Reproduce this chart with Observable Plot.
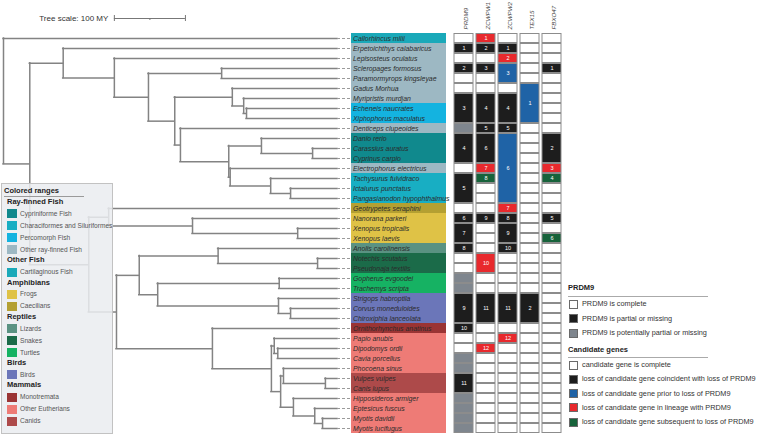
<!DOCTYPE html>
<html><head><meta charset="utf-8">
<script src="https://cdn.jsdelivr.net/npm/d3@7"></script>
<script src="https://cdn.jsdelivr.net/npm/@observablehq/plot@0.6"></script>
<style>
body{margin:0;background:#fff;font-family:"Liberation Sans",Arial,sans-serif;}
#wrap{position:relative;width:763px;height:435px;overflow:hidden;background:#fff;}
#wrap svg{position:absolute;left:0;top:0;}
.t{position:absolute;white-space:nowrap;line-height:10px;height:10px;}
.sw{position:absolute;box-sizing:border-box;}
</style></head><body><div id="wrap"></div>
<script>
// ---------- data ----------
const species = ["Callorhincus milii","Erpetoichthys calabaricus","Lepisosteus oculatus","Scleropages formosus","Paramormyrops kingsleyae","Gadus Morhua","Myripristis murdjan","Echeneis naucrates","Xiphophorus maculatus","Denticeps clupeoides","Danio rerio","Carassius auratus","Cyprinus carpio","Electrophorus electricus","Tachysurus fulvidraco","Ictalurus punctatus","Pangasianodon hypophthalmus","Geotrypetes seraphini","Nanorana parkeri","Xenopus tropicalis","Xenopus laevis","Anolis carolinensis","Notechis scutatus","Pseudonaja textilis","Gopherus evgoodei","Trachemys scripta","Strigops habroptila","Corvus moneduloides","Chiroxiphia lanceolata","Ornithorhynchus anatinus","Papio anubis","Dipodomys ordii","Cavia porcellus","Phocoena sinus","Vulpes vulpes","Canis lupus","Hipposideros armiger","Eptesicus fuscus","Myotis davidii","Myotis lucifugus"];

const tipParent = ["root","act","neo","osteo","osteo","eut","n243","n246","n246","oto","cyp","carcyp","carcyp","chara","silur","ictpan","ictpan","amph","anura","xen","xen","squam","snake","snake","turt","turt","birds","pass","pass","mamm","euarch","glires","glires","fereu","canid","canid","chir","vesp","myotis","myotis"];

// internal nodes: [id, parent, age (MY)]
const internalNodes = [
 ["root",null,470],["oste","root",433],["act","oste",386],["neo","act",314],["tele","neo",266],
 ["osteo","tele",163],["clupeo","tele",229],["eut","clupeo",148],["n243","eut",132],["n246","n243",128],
 ["oto","clupeo",221],["ostar","oto",153],["cyp","ostar",107],["carcyp","cyp",35],["chara","ostar",151],
 ["silur","chara",94],["ictpan","silur",66],["tetra","oste",350],["amph","tetra",322],["anura","amph",204],
 ["xen","anura",56],["amn","tetra",311],["saur","amn",279],["squam","saur",168],["snake","squam",28],
 ["arch","saur",253],["turt","arch",82],["birds","arch",83],["pass","birds",66],["mamm","amn",176],
 ["euth","mamm",93],["euarch","euth",89],["glires","euarch",84],["laur","euth",80],["fereu","laur",76],
 ["canid","fereu",17],["chir","laur",62],["vesp","chir",32],["myotis","vesp",21]
];

const treeScaleMY = 100;

// colored ranges
const rangeNames = ["Cypriniforme Fish","Characiformes and Siluriformes","Percomorph Fish","Other ray-finned Fish","Cartilaginous Fish","Frogs","Caecilians","Lizards","Snakes","Turtles","Birds","Monotremata","Other Eutherians","Canids"];
const rangeColors = ["#10898d","#18aec3","#14b3e0","#9db8c3","#1aa9b9","#dfc246","#b4a032","#5a9282","#1b6b49","#16b263","#6b76b9","#9a3434","#ee7b76","#ad4a4a"];
const rangeRuns = [["Cartilaginous Fish",1],["Other ray-finned Fish",6],["Percomorph Fish",2],["Other ray-finned Fish",1],["Cypriniforme Fish",3],["Other ray-finned Fish",1],["Characiformes and Siluriformes",3],["Caecilians",1],["Frogs",3],["Lizards",1],["Snakes",2],["Turtles",2],["Birds",3],["Monotremata",1],["Other Eutherians",4],["Canids",2],["Other Eutherians",4]];
const legendGroups = [
 ["Ray-finned Fish",["Cypriniforme Fish","Characiformes and Siluriformes","Percomorph Fish","Other ray-finned Fish"]],
 ["Other Fish",["Cartilaginous Fish"]],
 ["Amphibians",["Frogs","Caecilians"]],
 ["Reptiles",["Lizards","Snakes","Turtles"]],
 ["Birds",["Birds"]],
 ["Mammals",["Monotremata","Other Eutherians","Canids"]]
];

// gene matrix
const genes = ["PRDM9","ZCWPW1","ZCWPW2","TEX15","FBXO47"];
const stateKeys = ["c","p","g","b","r","n"];
const stateColors = ["#ffffff","#1d1d1d","#7f868e","#1f63a6","#e8292d","#17633b"];
const prdm9Runs = [["c",1],["p",1,"1"],["c",1],["p",1,"2"],["c",2],["p",3,"3"],["g",1],["p",3,"4"],["c",1],["p",3,"5"],["c",1],["p",1,"6"],["p",2,"7"],["p",1,"8"],["c",2],["g",2],["p",3,"9"],["p",1,"10"],["c",2],["g",2],["p",2,"11"],["g",4]];
const zcwpw1Runs = [["r",1,"1"],["p",1,"2"],["c",1],["p",1,"3"],["c",2],["p",3,"4"],["p",1,"5"],["p",3,"6"],["r",1,"7"],["n",1,"8"],["c",3],["p",1,"9"],["c",3],["r",2,"10"],["c",2],["p",3,"11"],["c",2],["r",1,"12"],["c",8]];
const zcwpw2Runs = [["c",1],["p",1,"1"],["r",1,"2"],["b",2,"3"],["c",1],["p",3,"4"],["p",1,"5"],["b",7,"6"],["r",1,"7"],["p",1,"8"],["p",2,"9"],["p",1,"10"],["c",4],["p",3,"11"],["c",1],["r",1,"12"],["c",9]];
const tex15Runs = [["c",5],["b",4,"1"],["c",17],["p",3,"2"],["c",11]];
const fbxo47Runs = [["c",3],["p",1,"1"],["c",6],["p",3,"2"],["r",1,"3"],["n",1,"4"],["c",3],["p",1,"5"],["c",1],["n",1,"6"],["c",19]];
const geneRuns = [prdm9Runs, zcwpw1Runs, zcwpw2Runs, tex15Runs, fbxo47Runs];

const prdm9Legend = [["c","PRDM9 is complete"],["p","PRDM9 is partial or missing"],["g","PRDM9 is potentially partial or missing"]];
const candidateLegend = [["c","candidate gene is complete"],["p","loss of candidate gene coincident with loss of PRDM9"],["b","loss of candidate gene prior to loss of PRDM9"],["r","loss of candidate gene in lineage with PRDM9"],["n","loss of candidate gene subsequent to loss of PRDM9"]];

// ---------- derived ----------
const nodeMap = new Map();
for (const [id, parent, age] of internalNodes) nodeMap.set(id, {id, parent, age, kids: []});
species.forEach((s, i) => nodeMap.set(s, {id: s, parent: tipParent[i], age: 0, y: i + 0.5, kids: []}));
for (const n of nodeMap.values()) if (n.parent) nodeMap.get(n.parent).kids.push(n);
function yOf(n) {
  if (n.y === undefined) { const ys = n.kids.map(yOf); n.y = (Math.min(...ys) + Math.max(...ys)) / 2; }
  return n.y;
}
const allNodes = [...nodeMap.values()];
const horiz = allNodes.filter(n => n.parent).map(n => ({y: yOf(n), x1: nodeMap.get(n.parent).age, x2: n.age}));
const vert = allNodes.filter(n => n.kids.length).map(n => { const ys = n.kids.map(yOf); return {x: n.age, y1: Math.min(...ys), y2: Math.max(...ys)}; });
const tips = species.map((s, i) => ({name: s, y: i + 0.5}));

const ranges = []; { let r = 0; for (const [g, k] of rangeRuns) { ranges.push({group: g, start: r, end: r + k}); r += k; } }

const cells = [];
genes.forEach((gene, gi) => {
  let r = 0;
  for (const [s, k, label] of geneRuns[gi]) {
    if (s === "c" || s === "g") { for (let j = 0; j < k; j++) cells.push({gene, state: s, start: r + j, end: r + j + 1}); }
    else cells.push({gene, state: s, start: r, end: r + k, label});
    r += k;
  }
});

const font = {background: "transparent", fontFamily: "'Liberation Sans', Arial, sans-serif", overflow: "visible"};
const wrap = document.getElementById("wrap");

// ---------- tree ----------
const treeLine = {stroke: "#838383", strokeWidth: 1.5, strokeLinecap: "square"};
const tree = Plot.plot({
  width: 763, height: 435, margin: 0, style: font,
  x: {domain: [470, 0], range: [3, 337], axis: null},
  y: {domain: [0, 40], range: [33, 433], axis: null},
  marks: [
    Plot.ruleY(horiz, {y: "y", x1: "x1", x2: "x2", ...treeLine}),
    Plot.ruleX(vert, {x: "x", y1: "y1", y2: "y2", ...treeLine}),
    Plot.ruleY(tips, {y: "y", x1: 0, x2: -18.5, stroke: "#9a9a9a", strokeWidth: 1, strokeDasharray: "3,2"}),
    Plot.ruleY([treeScaleMY], {y: -1.5, x1: 314, x2: d => 314 - d, stroke: "#777", strokeWidth: 1}),
    Plot.ruleX([314, 314 - treeScaleMY], {x: d => d, y1: -1.8, y2: -1.2, stroke: "#777", strokeWidth: 1}),
    Plot.ruleX([314 - treeScaleMY / 2], {x: d => d, y1: -1.5, y2: -1.3, stroke: "#777", strokeWidth: 1}),
    Plot.text([`Tree scale: ${treeScaleMY} MY`], {x: 314, y: -1.5, text: d => d, textAnchor: "end", dx: -6, fontSize: 8, fill: "#333"})
  ]
});
wrap.appendChild(tree);

// ---------- left legend (colored ranges) ----------
function addText(x, yc, txt, size, bold, color, italic) {
  const d = document.createElement("div");
  d.className = "t"; d.textContent = txt;
  d.style.left = x + "px"; d.style.top = (yc - 5) + "px";
  d.style.fontSize = size + "px"; d.style.fontWeight = bold ? "bold" : "normal";
  d.style.color = color; if (italic) d.style.fontStyle = "italic";
  wrap.appendChild(d);
}
function addBox(x, y, w, h, bg, border) {
  const d = document.createElement("div");
  d.className = "sw";
  Object.assign(d.style, {left: x + "px", top: y + "px", width: w + "px", height: h + "px", background: bg, border: border || "none"});
  wrap.appendChild(d); return d;
}
addBox(1, 183, 112, 251, "rgba(234,236,240,0.86)", "1px solid #c2c2c2");
addText(4, 191, "Colored ranges", 7.5, true, "#222");
addBox(4, 196, 80, 1, "#9a9a9a");
{
  let y = 191;
  for (const [head, items] of legendGroups) {
    y += (y === 191) ? 11 : 10.5;
    addText(7, y, head, 7.5, true, "#222");
    for (const it of items) {
      y += 11.9;
      addBox(7, y - 4.5, 10, 9, rangeColors[rangeNames.indexOf(it)]);
      addText(20, y, it, 6.6, false, "#555");
    }
  }
}

// ---------- colored ranges + labels ----------
const labels = Plot.plot({
  width: 763, height: 435, marginLeft: 351, marginRight: 317, marginTop: 33, marginBottom: 2, style: font,
  x: {type: "band", domain: ["range"], padding: 0, axis: null},
  y: {domain: [0, 40], range: [33, 433], axis: null},
  color: {domain: rangeNames, range: rangeColors},
  marks: [
    Plot.barY(ranges, {x: () => "range", y1: "start", y2: "end", fill: "group"}),
    Plot.text(tips, {y: "y", text: "name", frameAnchor: "left", textAnchor: "start", dx: 1.5, fontSize: 6.9, fontStyle: "italic", fill: "#2b2b2b"})
  ]
});
wrap.appendChild(labels);

// ---------- gene matrix ----------
const matrix = Plot.plot({
  width: 763, height: 435, marginLeft: 452, marginRight: 200, marginTop: 33, marginBottom: 2, style: font,
  x: {type: "band", domain: genes, paddingInner: 0.12, paddingOuter: 0, axis: null},
  y: {domain: [0, 40], range: [33, 433], axis: null},
  color: {domain: stateKeys, range: stateColors},
  marks: [
    Plot.barY(cells, {x: "gene", y1: "start", y2: "end", fill: "state", stroke: "#8c8c8c", strokeWidth: 1, insetTop: 0.5, insetBottom: 0.5}),
    Plot.text(cells.filter(d => d.label), {x: "gene", y: d => (d.start + d.end) / 2, text: "label", fill: "white", fontSize: 5.5}),
    Plot.text(genes, {x: d => d, text: d => d, frameAnchor: "top", rotate: -90, textAnchor: "start", dy: -4, fontSize: 6.2, fontStyle: "italic", fill: "#444"})
  ]
});
wrap.appendChild(matrix);

// ---------- right legend ----------
addText(568, 288, "PRDM9", 7.5, true, "#222");
addBox(568, 296, 140, 1, "#aaa");
prdm9Legend.forEach(([s, txt], i) => {
  const yc = 304 + i * 14.5;
  addBox(569, yc - 4.5, 9, 9, stateColors[stateKeys.indexOf(s)], "1px solid #6a6a6a");
  addText(582, yc, txt, 7.3, false, "#333");
});
addText(568, 350, "Candidate genes", 7.5, true, "#222");
addBox(568, 357, 140, 1, "#aaa");
candidateLegend.forEach(([s, txt], i) => {
  const yc = 365 + i * 14.3;
  addBox(569, yc - 4.5, 9, 9, stateColors[stateKeys.indexOf(s)], "1px solid #6a6a6a");
  addText(582, yc, txt, 7.3, false, "#333");
});
</script></body></html>
